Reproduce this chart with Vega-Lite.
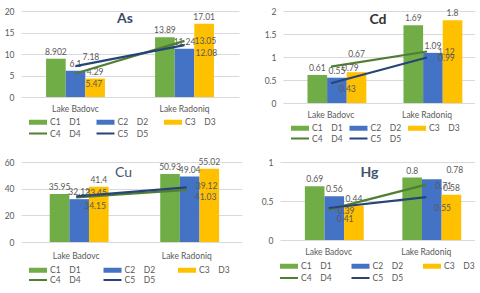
{
  "$schema": "https://vega.github.io/schema/vega-lite/v6.json",
  "padding": {"left": 4, "top": 7, "right": 0, "bottom": 0},
  "background": "white",
  "datasets": {
    "d": [
      {"metal": "As", "lake": "Lake Badovc", "series": "C1 D1", "value": 8.902},
      {"metal": "As", "lake": "Lake Badovc", "series": "C2 D2", "value": 6.1},
      {"metal": "As", "lake": "Lake Badovc", "series": "C3 D3", "value": 4.29},
      {"metal": "As", "lake": "Lake Badovc", "series": "C4 D4", "value": 5.47},
      {"metal": "As", "lake": "Lake Badovc", "series": "C5 D5", "value": 7.18},
      {"metal": "As", "lake": "Lake Radoniq", "series": "C1 D1", "value": 13.89},
      {"metal": "As", "lake": "Lake Radoniq", "series": "C2 D2", "value": 11.24},
      {"metal": "As", "lake": "Lake Radoniq", "series": "C3 D3", "value": 17.01},
      {"metal": "As", "lake": "Lake Radoniq", "series": "C4 D4", "value": 13.05},
      {"metal": "As", "lake": "Lake Radoniq", "series": "C5 D5", "value": 12.08},
      {"metal": "Cd", "lake": "Lake Badovc", "series": "C1 D1", "value": 0.61},
      {"metal": "Cd", "lake": "Lake Badovc", "series": "C2 D2", "value": 0.55},
      {"metal": "Cd", "lake": "Lake Badovc", "series": "C3 D3", "value": 0.67},
      {"metal": "Cd", "lake": "Lake Badovc", "series": "C4 D4", "value": 0.79},
      {"metal": "Cd", "lake": "Lake Badovc", "series": "C5 D5", "value": 0.43},
      {"metal": "Cd", "lake": "Lake Radoniq", "series": "C1 D1", "value": 1.69},
      {"metal": "Cd", "lake": "Lake Radoniq", "series": "C2 D2", "value": 1.09},
      {"metal": "Cd", "lake": "Lake Radoniq", "series": "C3 D3", "value": 1.8},
      {"metal": "Cd", "lake": "Lake Radoniq", "series": "C4 D4", "value": 1.12},
      {"metal": "Cd", "lake": "Lake Radoniq", "series": "C5 D5", "value": 0.99},
      {"metal": "Cu", "lake": "Lake Badovc", "series": "C1 D1", "value": 35.95},
      {"metal": "Cu", "lake": "Lake Badovc", "series": "C2 D2", "value": 32.12},
      {"metal": "Cu", "lake": "Lake Badovc", "series": "C3 D3", "value": 41.4},
      {"metal": "Cu", "lake": "Lake Badovc", "series": "C4 D4", "value": 33.45},
      {"metal": "Cu", "lake": "Lake Badovc", "series": "C5 D5", "value": 34.15},
      {"metal": "Cu", "lake": "Lake Radoniq", "series": "C1 D1", "value": 50.93},
      {"metal": "Cu", "lake": "Lake Radoniq", "series": "C2 D2", "value": 49.04},
      {"metal": "Cu", "lake": "Lake Radoniq", "series": "C3 D3", "value": 55.02},
      {"metal": "Cu", "lake": "Lake Radoniq", "series": "C4 D4", "value": 39.12},
      {"metal": "Cu", "lake": "Lake Radoniq", "series": "C5 D5", "value": 41.03},
      {"metal": "Hg", "lake": "Lake Badovc", "series": "C1 D1", "value": 0.69},
      {"metal": "Hg", "lake": "Lake Badovc", "series": "C2 D2", "value": 0.56},
      {"metal": "Hg", "lake": "Lake Badovc", "series": "C3 D3", "value": 0.44},
      {"metal": "Hg", "lake": "Lake Badovc", "series": "C4 D4", "value": 0.39},
      {"metal": "Hg", "lake": "Lake Badovc", "series": "C5 D5", "value": 0.41},
      {"metal": "Hg", "lake": "Lake Radoniq", "series": "C1 D1", "value": 0.8},
      {"metal": "Hg", "lake": "Lake Radoniq", "series": "C2 D2", "value": 0.78},
      {"metal": "Hg", "lake": "Lake Radoniq", "series": "C3 D3", "value": 0.58},
      {"metal": "Hg", "lake": "Lake Radoniq", "series": "C4 D4", "value": 0.71},
      {"metal": "Hg", "lake": "Lake Radoniq", "series": "C5 D5", "value": 0.55}
    ]
  },
  "data": {"name": "d"},
  "spacing": 6,
  "resolve": {"scale": {"color": "independent", "stroke": "independent"}, "legend": {"color": "independent", "stroke": "independent"}},
  "vconcat": [
    {
      "spacing": 25,
      "resolve": {"scale": {"color": "independent", "stroke": "independent"}, "legend": {"color": "independent", "stroke": "independent"}},
      "hconcat": [
        {
          "width": 218, "height": 86,
          "title": {"text": "As", "frame": "group", "anchor": "middle", "baseline": "middle", "offset": -26, "dx": -5, "fontSize": 14, "fontWeight": "bold", "color": "#3C4B66"},
          "transform": [{"filter": "datum.metal == 'As'"}],
          "encoding": {
            "x": {"field": "lake", "type": "nominal", "title": null, "scale": {"paddingInner": 0.46, "paddingOuter": 0.23}},
            "y": {"field": "value", "type": "quantitative", "title": null, "scale": {"domain": [0, 20]}, "axis": {"values": [0, 5, 10, 15, 20]}}
          },
          "layer": [
            {
              "transform": [{"filter": "datum.series < 'C4'"}],
              "mark": "bar",
              "encoding": {
                "xOffset": {"field": "series", "type": "nominal"},
                "color": {"field": "series", "type": "nominal", "scale": {"domain": ["C1 D1", "C2 D2", "C3 D3", "C4 D4", "C5 D5"], "range": ["#70AD47", "#4472C4", "#FFC000", "#507E32", "#264478"]},
                  "legend": {"columnPadding": 15.5, "padding": 8, "offset": -4, "labelExpr": "replace(datum.label, ' ', '\u00a0\u00a0\u00a0\u00a0')", "encode": {"symbols": {"update": {"shape": {"signal": "datum.value >= 'C4' ? 'M-1,-0.2H2.6V0.2H-1Z' : 'M-1,-0.5H2.6V0.5H-1Z'"}}}}}}
              }
            },
            {
              "transform": [{"filter": "datum.series < 'C4'"}],
              "mark": {"type": "text", "baseline": "bottom", "dy": -2},
              "encoding": {"xOffset": {"field": "series", "type": "nominal"}, "text": {"field": "value", "type": "nominal"}}
            },
            {
              "transform": [{"filter": "datum.series >= 'C4'"}],
              "mark": {"type": "line", "strokeWidth": 2.2},
              "encoding": {"stroke": {"field": "series", "type": "nominal", "scale": {"domain": ["C4 D4", "C5 D5"], "range": ["#507E32", "#264478"]}, "legend": null}}
            },
            {
              "transform": [{"filter": "datum.series == 'C4 D4' && datum.lake == 'Lake Badovc'"}],
              "mark": {"type": "text", "align": "left", "dx": 10, "dy": 11},
              "encoding": {"text": {"field": "value", "type": "nominal"}}
            },
            {
              "transform": [{"filter": "datum.series == 'C5 D5' && datum.lake == 'Lake Radoniq'"}],
              "mark": {"type": "text", "align": "left", "dx": 11, "dy": 8},
              "encoding": {"text": {"field": "value", "type": "nominal"}}
            },
            {
              "transform": [{"filter": "datum.series == 'C4 D4' && datum.lake == 'Lake Radoniq'"}],
              "mark": {"type": "text", "align": "left", "dx": 10, "dy": 0},
              "encoding": {"text": {"field": "value", "type": "nominal"}}
            },
            {
              "transform": [{"filter": "datum.series == 'C5 D5' && datum.lake == 'Lake Badovc'"}],
              "mark": {"type": "text", "align": "left", "dx": 7, "dy": -9},
              "encoding": {"text": {"field": "value", "type": "nominal"}}
            }
          ]
        },
        {
          "width": 192, "height": 92,
          "title": {"text": "Cd", "frame": "group", "anchor": "middle", "baseline": "middle", "offset": -27, "dx": -1, "fontSize": 14, "fontWeight": "bold", "color": "#333333"},
          "transform": [{"filter": "datum.metal == 'Cd'"}],
          "encoding": {
            "x": {"field": "lake", "type": "nominal", "title": null, "scale": {"paddingInner": 0.51, "paddingOuter": 0.255}},
            "y": {"field": "value", "type": "quantitative", "title": null, "scale": {"domain": [0, 2]}, "axis": {"values": [0, 0.5, 1, 1.5, 2]}}
          },
          "layer": [
            {
              "transform": [{"filter": "datum.series < 'C4'"}],
              "mark": "bar",
              "encoding": {
                "xOffset": {"field": "series", "type": "nominal"},
                "color": {"field": "series", "type": "nominal", "scale": {"domain": ["C1 D1", "C2 D2", "C3 D3", "C4 D4", "C5 D5"], "range": ["#70AD47", "#4472C4", "#FFC000", "#507E32", "#264478"]},
                  "legend": {"columnPadding": 6.5, "padding": 8, "offset": -4, "rowPadding": 0.5, "labelExpr": "replace(datum.label, ' ', '\u00a0\u00a0\u00a0\u00a0')", "encode": {"symbols": {"update": {"shape": {"signal": "datum.value >= 'C4' ? 'M-1,-0.2H2.6V0.2H-1Z' : 'M-1,-0.5H2.6V0.5H-1Z'"}}}}}}
              }
            },
            {
              "transform": [{"filter": "datum.series < 'C4' && !(datum.series == 'C3 D3' && datum.lake == 'Lake Badovc')"}],
              "mark": {"type": "text", "baseline": "bottom", "dy": -2},
              "encoding": {"xOffset": {"field": "series", "type": "nominal"}, "text": {"field": "value", "type": "nominal"}}
            },
            {
              "transform": [{"filter": "datum.series == 'C3 D3' && datum.lake == 'Lake Badovc'"}],
              "mark": {"type": "text", "baseline": "bottom", "dy": -13},
              "encoding": {"xOffset": {"field": "series", "type": "nominal"}, "text": {"field": "value", "type": "nominal"}}
            },
            {
              "transform": [{"filter": "datum.series >= 'C4'"}],
              "mark": {"type": "line", "strokeWidth": 2.2},
              "encoding": {"stroke": {"field": "series", "type": "nominal", "scale": {"domain": ["C4 D4", "C5 D5"], "range": ["#507E32", "#264478"]}, "legend": null}}
            },
            {
              "transform": [{"filter": "datum.series >= 'C4' && !(datum.series == 'C5 D5' && datum.lake == 'Lake Badovc')"}],
              "mark": {"type": "text", "align": "left", "dx": 11, "dy": 1},
              "encoding": {"text": {"field": "value", "type": "nominal"}}
            },
            {
              "transform": [{"filter": "datum.series == 'C5 D5' && datum.lake == 'Lake Badovc'"}],
              "mark": {"type": "text", "align": "left", "dx": 8, "dy": 6},
              "encoding": {"text": {"field": "value", "type": "nominal"}}
            }
          ]
        }
      ]
    },
    {
      "spacing": 19,
      "resolve": {"scale": {"color": "independent", "stroke": "independent"}, "legend": {"color": "independent", "stroke": "independent"}},
      "hconcat": [
        {
          "width": 221, "height": 80,
          "title": {"text": "Cu", "frame": "group", "anchor": "middle", "baseline": "middle", "offset": -29, "dx": -8, "fontSize": 14, "fontWeight": "normal", "color": "#44546A"},
          "transform": [{"filter": "datum.metal == 'Cu'"}],
          "encoding": {
            "x": {"field": "lake", "type": "nominal", "title": null, "scale": {"paddingInner": 0.52, "paddingOuter": 0.26}, "axis": {"labelPadding": 9}},
            "y": {"field": "value", "type": "quantitative", "title": null, "scale": {"domain": [0, 60]}, "axis": {"values": [0, 20, 40, 60]}}
          },
          "layer": [
            {
              "transform": [{"filter": "datum.series < 'C4'"}],
              "mark": "bar",
              "encoding": {
                "xOffset": {"field": "series", "type": "nominal"},
                "color": {"field": "series", "type": "nominal", "scale": {"domain": ["C1 D1", "C2 D2", "C3 D3", "C4 D4", "C5 D5"], "range": ["#70AD47", "#4472C4", "#FFC000", "#507E32", "#264478"]},
                  "legend": {"columnPadding": 22.5, "padding": 8, "offset": -3, "rowPadding": 0, "labelExpr": "replace(datum.label, ' ', '\u00a0\u00a0\u00a0\u00a0')", "encode": {"symbols": {"update": {"shape": {"signal": "datum.value >= 'C4' ? 'M-1,-0.2H2.6V0.2H-1Z' : 'M-1,-0.5H2.6V0.5H-1Z'"}}}}}}
              }
            },
            {
              "transform": [{"filter": "datum.series < 'C4'"}],
              "mark": {"type": "text", "baseline": "bottom", "dy": -2},
              "encoding": {"xOffset": {"field": "series", "type": "nominal"}, "text": {"field": "value", "type": "nominal"}}
            },
            {
              "transform": [{"filter": "datum.series >= 'C4'"}],
              "mark": {"type": "line", "strokeWidth": 2.2},
              "encoding": {"stroke": {"field": "series", "type": "nominal", "scale": {"domain": ["C4 D4", "C5 D5"], "range": ["#507E32", "#264478"]}, "legend": null}}
            },
            {
              "transform": [{"filter": "datum.series == 'C4 D4'"}],
              "mark": {"type": "text", "align": "left", "dx": 9, "dy": -4},
              "encoding": {"text": {"field": "value", "type": "nominal"}}
            },
            {
              "transform": [{"filter": "datum.series == 'C5 D5'"}],
              "mark": {"type": "text", "align": "left", "dx": 8, "dy": 10},
              "encoding": {"text": {"field": "value", "type": "nominal"}}
            }
          ]
        },
        {
          "width": 195, "height": 78,
          "title": {"text": "Hg", "frame": "group", "anchor": "middle", "baseline": "middle", "offset": -29, "dx": -8, "fontSize": 14, "fontWeight": "bold", "color": "#44546A"},
          "transform": [{"filter": "datum.metal == 'Hg'"}],
          "encoding": {
            "x": {"field": "lake", "type": "nominal", "title": null, "scale": {"paddingInner": 0.51, "paddingOuter": 0.255}},
            "y": {"field": "value", "type": "quantitative", "title": null, "scale": {"domain": [0, 1]}, "axis": {"values": [0, 0.5, 1]}}
          },
          "layer": [
            {
              "transform": [{"filter": "datum.series < 'C4'"}],
              "mark": "bar",
              "encoding": {
                "xOffset": {"field": "series", "type": "nominal"},
                "color": {"field": "series", "type": "nominal", "scale": {"domain": ["C1 D1", "C2 D2", "C3 D3", "C4 D4", "C5 D5"], "range": ["#70AD47", "#4472C4", "#FFC000", "#507E32", "#264478"]},
                  "legend": {"columnPadding": 19.5, "padding": 0, "offset": 5, "rowPadding": 2, "labelExpr": "replace(datum.label, ' ', '\u00a0\u00a0\u00a0\u00a0')", "encode": {"symbols": {"update": {"shape": {"signal": "datum.value >= 'C4' ? 'M-1,-0.2H2.6V0.2H-1Z' : 'M-1,-0.5H2.6V0.5H-1Z'"}}}}}}
              }
            },
            {
              "transform": [{"filter": "datum.series < 'C4' && !(datum.series == 'C2 D2' && datum.lake == 'Lake Radoniq')"}],
              "mark": {"type": "text", "baseline": "bottom", "dy": -2},
              "encoding": {"xOffset": {"field": "series", "type": "nominal"}, "text": {"field": "value", "type": "nominal"}}
            },
            {
              "transform": [{"filter": "datum.series == 'C2 D2' && datum.lake == 'Lake Radoniq'"}],
              "mark": {"type": "text", "baseline": "bottom", "dy": -4, "dx": 23},
              "encoding": {"xOffset": {"field": "series", "type": "nominal"}, "text": {"field": "value", "type": "nominal"}}
            },
            {
              "transform": [{"filter": "datum.series >= 'C4'"}],
              "mark": {"type": "line", "strokeWidth": 2.2},
              "encoding": {"stroke": {"field": "series", "type": "nominal", "scale": {"domain": ["C4 D4", "C5 D5"], "range": ["#507E32", "#264478"]}, "legend": null}}
            },
            {
              "transform": [{"filter": "datum.series == 'C4 D4'"}],
              "mark": {"type": "text", "align": "left", "dx": 9, "dy": 1},
              "encoding": {"text": {"field": "value", "type": "nominal"}}
            },
            {
              "transform": [{"filter": "datum.series == 'C5 D5'"}],
              "mark": {"type": "text", "align": "left", "dx": 8, "dy": 11},
              "encoding": {"text": {"field": "value", "type": "nominal"}}
            }
          ]
        }
      ]
    }
  ],
  "config": {
    "font": "Lato",
    "view": {"stroke": null},
    "axis": {"labelFont": "Lato", "labelFontSize": 8.5, "labelColor": "#595959", "ticks": false, "domain": false, "gridColor": "#D9D9D9", "gridWidth": 1, "labelOverlap": false},
    "axisX": {"labelAngle": 0, "labelPadding": 7, "grid": false},
    "axisY": {"labelPadding": 7, "grid": true, "labelExpr": "'' + datum.value"},
    "legend": {
      "orient": "bottom", "direction": "horizontal", "columns": 3, "title": null,
      "labelFont": "Lato", "labelFontSize": 8.5, "labelColor": "#595959",
      "symbolSize": 100, "symbolStrokeWidth": 0, "symbolType": "M-1,-0.5H2.6V0.5H-1Z",
      "labelOffset": 11, "rowPadding": 1.5
    },
    "text": {"font": "Lato", "fontSize": 8.5, "color": "#595959"}
  }
}
